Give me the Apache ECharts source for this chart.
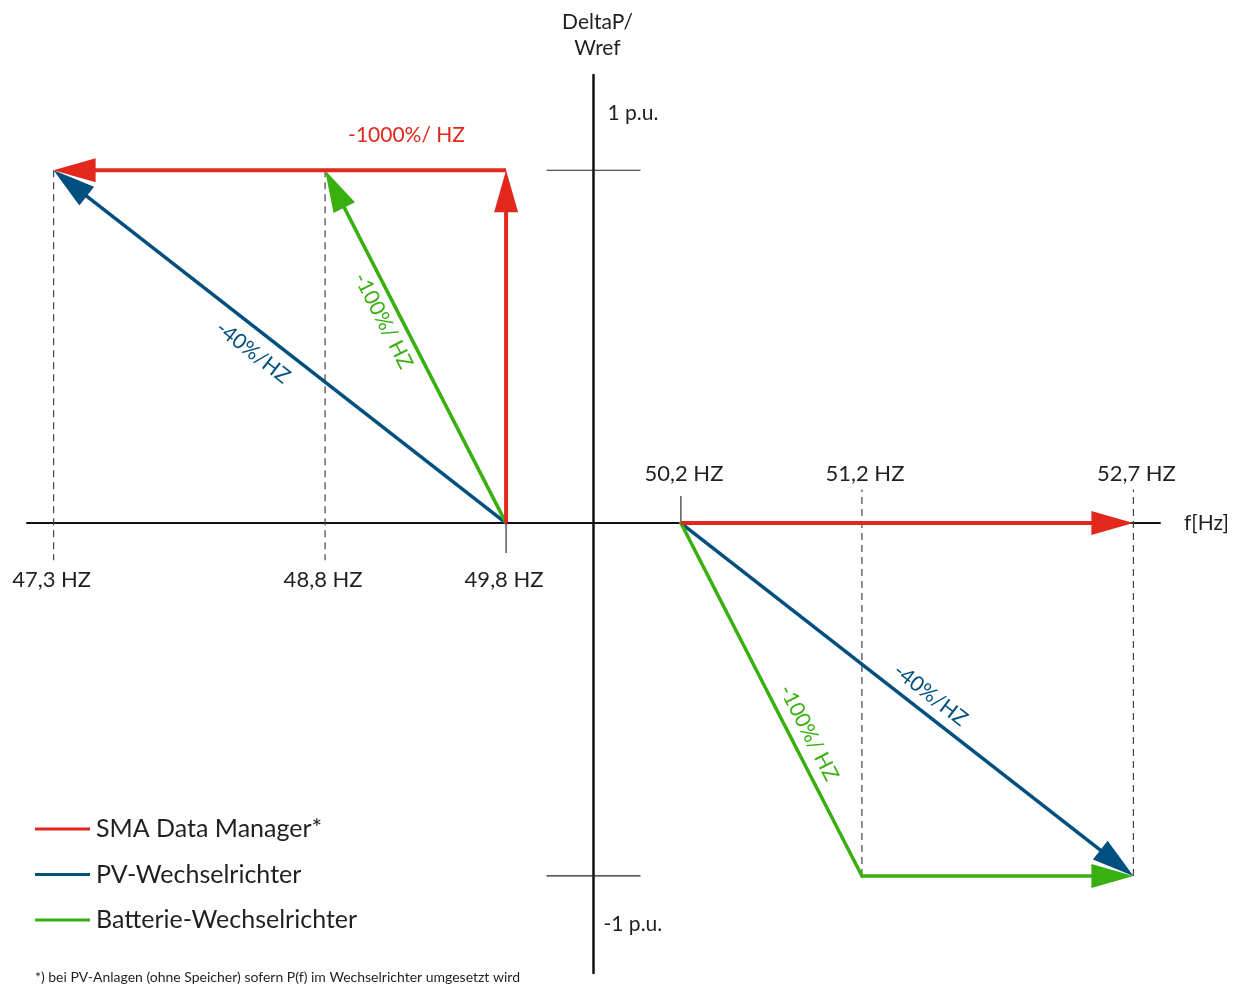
<!DOCTYPE html>
<html><head><meta charset="utf-8">
<script src="https://cdn.jsdelivr.net/npm/echarts@6/dist/echarts.min.js"></script>
<style>html,body{margin:0;padding:0;background:#fff}#c{width:1236px;height:985px}</style>
</head><body><div id="c"></div>
<script>
// ---------- data ----------
const freqs = [47.3, 48.8, 49.8, 50.2, 51.2, 52.7];
const freqLabels = ['47,3 HZ', '48,8 HZ', '49,8 HZ', '50,2 HZ', '51,2 HZ', '52,7 HZ'];
const puValues = [1, -1];
const puLabels = ['1 p.u.', '-1 p.u.'];
const seriesNames = ['SMA Data Manager*', 'PV-Wechselrichter', 'Batterie-Wechselrichter'];
// segments: [f start (Hz), ΔP start (p.u.), f end (Hz), ΔP end (p.u.), arrowhead 1/0]
const smaSegments = [[49.8, 0, 49.8, 1, 1], [49.8, 1, 47.3, 1, 1], [50.2, 0, 52.7, 0, 1]];
const pvSegments  = [[49.8, 0, 47.3, 1, 1], [50.2, 0, 52.7, -1, 1]];
const batSegments = [[49.8, 0, 48.8, 1, 1], [50.2, 0, 51.2, -1, 0], [51.2, -1, 52.7, -1, 1]];
const smaSlopeLabels = ['', '-1000%/ HZ', ''];
const pvSlopeLabels  = ['-40%/HZ', '-40%/HZ'];
const batSlopeLabels = ['-100%/ HZ', '-100%/ HZ', ''];
// dashed guide lines: [f, ΔP from, ΔP to]
const guides = [[47.3, 1, -0.105], [48.8, 1, -0.105], [51.2, -1, 0.095], [52.7, -1, 0.095]];
// short solid ticks at deadband limits: [f, ΔP from, ΔP to]
const deadbandTicks = [[49.8, 0, -0.085], [50.2, 0, 0.077]];
const footnote = '*) bei PV-Anlagen (ohne Speicher) sofern P(f) im Wechselrichter umgesetzt wird';

// ---------- schematic frequency scale (deadband 49.8–50.2 Hz drawn enlarged) ----------
const DEADBAND_HALF = 0.483;
function toX(f) {
  const d = f - 50;
  if (Math.abs(d) <= 0.2) return d / 0.2 * DEADBAND_HALF;
  return Math.sign(d) * (DEADBAND_HALF + Math.abs(d) - 0.2);
}
function segData(arr) { return arr.map(s => [toX(s[0]), s[1], toX(s[2]), s[3], s[4]]); }

// ---------- styles ----------
const FONT = 'Lato';
const TXT = '#231f20';
const RED = '#e2271d', BLUE = '#00507f', GREEN = '#37b010';
const HEAD_LEN = 42, HEAD_HALF = 12;
// label placement along segment: t = fraction from start, off = perpendicular px
const smaPlace = [null, {t: 0.22, off: -35}, null];
const pvPlace = [{t: 0.531, off: 21}, {t: 0.527, off: 18}];
const batPlace = [{t: 0.595, off: 17}, {t: 0.618, off: 18}, null];

function arrowRender(color, width, labels, place) {
  return function (params, api) {
    const a = api.coord([api.value(0), api.value(1)]);
    const b = api.coord([api.value(2), api.value(3)]);
    const head = api.value(4);
    const dx = b[0] - a[0], dy = b[1] - a[1];
    const L = Math.hypot(dx, dy), ux = dx / L, uy = dy / L;
    const children = [];
    const e = head ? [b[0] - ux * HEAD_LEN * 0.9, b[1] - uy * HEAD_LEN * 0.9] : b;
    children.push({type: 'line', shape: {x1: a[0], y1: a[1], x2: e[0], y2: e[1]},
      style: {stroke: color, lineWidth: width, lineCap: head ? 'butt' : 'square'}});
    if (head) {
      const bx = b[0] - ux * HEAD_LEN, by = b[1] - uy * HEAD_LEN;
      children.push({type: 'polygon', shape: {points: [[b[0], b[1]],
        [bx - uy * HEAD_HALF, by + ux * HEAD_HALF], [bx + uy * HEAD_HALF, by - ux * HEAD_HALF]]},
        style: {fill: color}});
    }
    const txt = labels[params.dataIndex];
    const p = place[params.dataIndex];
    if (txt && p) {
      const nx = uy, ny = -ux;
      const cx = a[0] + dx * p.t + nx * p.off, cy = a[1] + dy * p.t + ny * p.off;
      let rx = dx, ry = dy;
      if (rx < 0) { rx = -rx; ry = -ry; }
      const rot = -Math.atan2(ry, rx);
      children.push({type: 'text', x: cx, y: cy, rotation: rot,
        style: {text: txt, fill: color, font: '21px ' + FONT, align: 'center', verticalAlign: 'middle'}});
    }
    return {type: 'group', children};
  };
}

const chart = echarts.init(document.getElementById('c'), null, {renderer: 'canvas'});
const option = {
  backgroundColor: '#fff',
  animation: false,
  grid: {left: 27, right: 76, top: 75, bottom: 12},
  xAxis: {type: 'value', min: -3.13, max: 3.13,
    name: 'f[Hz]', nameLocation: 'end', nameGap: 24,
    nameTextStyle: {fontSize: 21, color: TXT, fontFamily: FONT, verticalAlign: 'middle'},
    axisLine: {lineStyle: {color: '#111', width: 2}}, axisTick: {show: false},
    axisLabel: {show: false}, splitLine: {show: false}},
  yAxis: {type: 'value', min: -1.275, max: 1.27,
    name: 'DeltaP/\nWref', nameLocation: 'end', nameGap: 14,
    nameTextStyle: {fontSize: 21, color: TXT, fontFamily: FONT, lineHeight: 26, align: 'center',
      padding: [0, 0, 0, 8]},
    axisLine: {lineStyle: {color: '#111', width: 2.5}}, axisTick: {show: false},
    axisLabel: {show: false}, splitLine: {show: false}},
  legend: {orient: 'vertical', left: 35, top: 814, padding: 0, itemWidth: 55, itemHeight: 3, itemGap: 15.5,
    icon: 'rect', selectedMode: false, data: seriesNames,
    textStyle: {fontSize: 25, color: TXT, fontFamily: FONT, lineHeight: 30, padding: [0, 0, 0, 1]}},
  graphic: [{type: 'text', left: 35, top: 970,
    style: {text: footnote, fill: TXT, font: '14px ' + FONT}}],
  series: [
    {type: 'custom', name: 'guides', coordinateSystem: 'cartesian2d', clip: false, silent: true, z: 1,
      data: guides.map(g => [toX(g[0]), g[1], g[2]]),
      encode: {x: 0, y: [1, 2]},
      renderItem: function (params, api) {
        const a = api.coord([api.value(0), api.value(1)]);
        const b = api.coord([api.value(0), api.value(2)]);
        return {type: 'line', shape: {x1: a[0], y1: a[1], x2: b[0], y2: b[1]},
          style: {stroke: '#444', lineWidth: 1.2, lineDash: [7, 5]}};
      }},
    {type: 'custom', name: 'deadband', coordinateSystem: 'cartesian2d', clip: false, silent: true, z: 1,
      data: deadbandTicks.map(g => [toX(g[0]), g[1], g[2]]),
      encode: {x: 0, y: [1, 2]},
      renderItem: function (params, api) {
        const a = api.coord([api.value(0), api.value(1)]);
        const b = api.coord([api.value(0), api.value(2)]);
        return {type: 'line', shape: {x1: a[0], y1: a[1], x2: b[0], y2: b[1]},
          style: {stroke: '#333', lineWidth: 1.2}};
      }},
    {type: 'custom', name: 'freqLabels', coordinateSystem: 'cartesian2d', clip: false, silent: true, z: 3,
      data: freqs.map(f => [toX(f), 0]),
      encode: {x: 0, y: 1},
      renderItem: function (params, api) {
        const p = api.coord([api.value(0), api.value(1)]);
        const below = freqs[params.dataIndex] < 50;
        return {type: 'text', x: p[0] + (below ? -2 : 3), y: p[1] + (below ? 57 : -49),
          style: {text: freqLabels[params.dataIndex], fill: TXT, font: '22px ' + FONT,
            align: 'center', verticalAlign: 'middle'}};
      }},
    {type: 'custom', name: 'puTicks', coordinateSystem: 'cartesian2d', clip: false, silent: true, z: 3,
      data: puValues.map(v => [0, v]),
      encode: {x: 0, y: 1},
      renderItem: function (params, api) {
        const p = api.coord([api.value(0), api.value(1)]);
        const up = puValues[params.dataIndex] > 0;
        return {type: 'group', children: [
          {type: 'line', shape: {x1: p[0] - 47, y1: p[1], x2: p[0] + 47, y2: p[1]},
            style: {stroke: '#222', lineWidth: 1.2}},
          {type: 'text', x: p[0] + (up ? 14 : 10), y: p[1] + (up ? -57 : 48),
            style: {text: puLabels[params.dataIndex], fill: TXT, font: '21px ' + FONT,
              align: 'left', verticalAlign: 'middle'}}
        ]};
      }},
    {type: 'custom', name: seriesNames[1], coordinateSystem: 'cartesian2d', clip: false, z: 4,
      itemStyle: {color: BLUE}, data: segData(pvSegments), encode: {x: [0, 2], y: [1, 3]},
      renderItem: arrowRender(BLUE, 3.5, pvSlopeLabels, pvPlace)},
    {type: 'custom', name: seriesNames[2], coordinateSystem: 'cartesian2d', clip: false, z: 5,
      itemStyle: {color: GREEN}, data: segData(batSegments), encode: {x: [0, 2], y: [1, 3]},
      renderItem: arrowRender(GREEN, 3.5, batSlopeLabels, batPlace)},
    {type: 'custom', name: seriesNames[0], coordinateSystem: 'cartesian2d', clip: false, z: 6,
      itemStyle: {color: RED}, data: segData(smaSegments), encode: {x: [0, 2], y: [1, 3]},
      renderItem: arrowRender(RED, 4, smaSlopeLabels, smaPlace)}
  ]
};
chart.setOption(option);
</script></body></html>
